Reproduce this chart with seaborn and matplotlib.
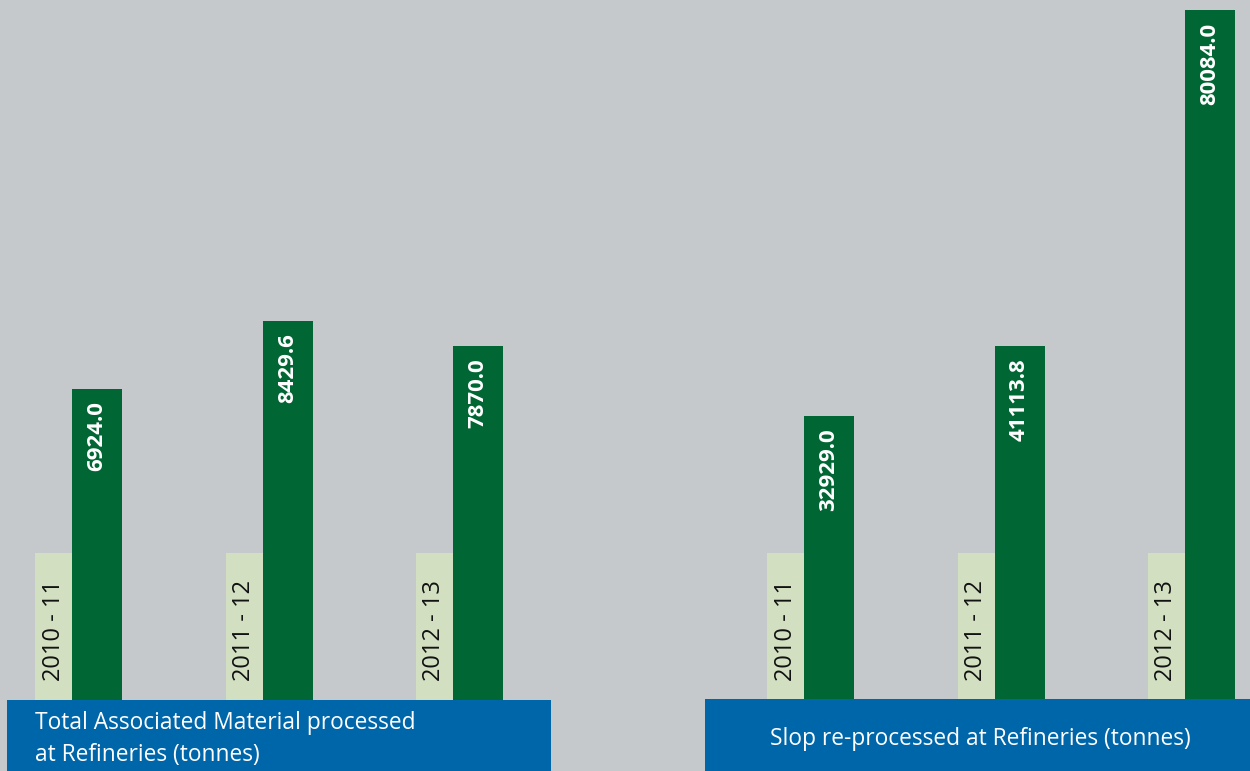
import matplotlib
matplotlib.use("Agg")
import matplotlib.pyplot as plt
from matplotlib.patches import Rectangle
import pandas as pd
import seaborn as sns

years = ["2010 - 11", "2011 - 12", "2012 - 13"]
material_tonnes = [6924.0, 8429.6, 7870.0]
slop_tonnes = [32929.0, 41113.8, 80084.0]
titles = ["Total Associated Material processed\nat Refineries (tonnes)",
          "Slop re-processed at Refineries (tonnes)"]

BG = "#c5c9cc"
DARK = "#006633"
LIGHT = "#d2dfc0"
BLUE = "#0066aa"

sns.set_theme(style="white")
plt.rcParams["font.family"] = ["Open Sans", "DejaVu Sans"]

W, H = 1250, 771
fig = plt.figure(figsize=(12.5, 7.71), dpi=100)
fig.patch.set_facecolor(BG)

unit = 190.5          # px between groups
base = 71             # px from bottom to baseline
bar_w = 50 / unit
box_w = 37 / unit
box_off = (25 + 18.5) / unit

# (values, panel left px, panel right px, first bar centre px, px per tonne)
panels = [
    (material_tonnes, 0, 625, 97, 0.04496),
    (slop_tonnes, 625, 1250, 829, 0.008616),
]

for (vals, x0, x1, c0, px_per) in panels:
    ax = fig.add_axes([x0 / W, base / H, (x1 - x0) / W, (H - base) / H])
    ax.set_facecolor("none")
    df = pd.DataFrame({"year": years, "tonnes": vals})
    ymax = (H - base) / px_per
    # label boxes behind the year text
    box_h = 147 / px_per
    ax.bar([i - box_off for i in range(len(years))], box_h, width=box_w,
           color=LIGHT, linewidth=0, zorder=1)
    sns.barplot(data=df, x="year", y="tonnes", color=DARK, width=bar_w,
                saturation=1, linewidth=0, ax=ax, zorder=2)
    ax.set_xlim(-(c0 - x0) / unit, (x1 - c0) / unit)
    ax.set_ylim(0, ymax)
    ax.axis("off")
    for i, (yr, v) in enumerate(zip(years, vals)):
        ax.annotate(yr, (i - box_off, 0), xytext=(0, 14), textcoords="offset points",
                    rotation=90, ha="center", va="bottom", fontsize=17, color="#111111")
        ax.annotate(f"{v:.1f}", (i, v), xytext=(0, -9), textcoords="offset points",
                    rotation=90, ha="center", va="top", fontsize=16,
                    fontweight="bold", color="white")

# blue title boxes
fig.add_artist(Rectangle((7 / W, 0), 544 / W, base / H, transform=fig.transFigure,
                         color=BLUE, linewidth=0))
fig.add_artist(Rectangle((705 / W, 0), 545 / W, 72 / H, transform=fig.transFigure,
                         color=BLUE, linewidth=0))
fig.text(35 / W, 32 / H, titles[0], ha="left", va="center", fontsize=16.4,
         color="white", linespacing=1.45)
fig.text(980 / W, 32 / H, titles[1], ha="center", va="center", fontsize=16.4,
         color="white")

fig.savefig("out.png", dpi=100, facecolor=BG)
